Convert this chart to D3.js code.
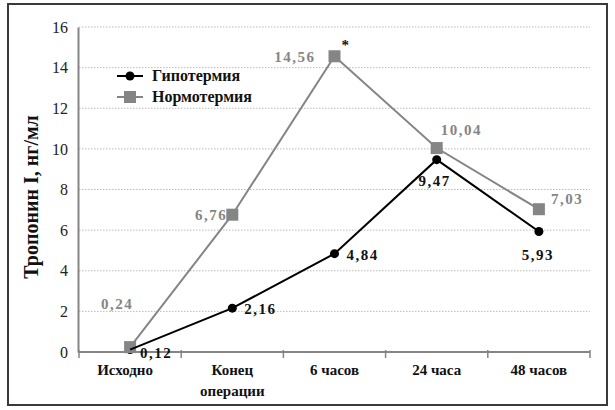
<!DOCTYPE html>
<html><head><meta charset="utf-8">
<script src="https://cdn.jsdelivr.net/npm/d3@7"></script>
<style>
body{margin:0;background:#fff;}
svg{display:block;}
svg text{font-family:'Liberation Serif','Times New Roman',serif;}
</style></head>
<body>
<svg id="c" width="615" height="410"></svg>
<script>
const categories = ["Исходно", "Конец\nоперации", "6 часов", "24 часа", "48 часов"];
const hypothermia = [0.12, 2.16, 4.84, 9.47, 5.93];
const normothermia = [0.24, 6.76, 14.56, 10.04, 7.03];
const hypoLabels = ["0,12", "2,16", "4,84", "9,47", "5,93"];
const normoLabels = ["0,24", "6,76", "14,56", "10,04", "7,03"];
const yTicks = [0, 2, 4, 6, 8, 10, 12, 14, 16];
const seriesNames = ["Гипотермия", "Нормотермия"];
const yTitle = "Тропонин I, нг/мл";

const svg = d3.select("#c");
const serif = "'Liberation Serif', 'Times New Roman', serif";
const grayC = "#858585";

// frame
svg.append("rect").attr("x", 8).attr("y", 4).attr("width", 599).attr("height", 401)
  .attr("fill", "none").attr("stroke", "#3a3a3a").attr("stroke-width", 2);

const x = d3.scaleBand().domain(d3.range(categories.length)).range([79, 590]);
const y = d3.scaleLinear().domain([0, 16]).range([352, 27]);
const cx = i => x(i) + x.bandwidth() / 2;

// gridlines
svg.append("g").selectAll("line").data(yTicks.filter(d => d > 0)).join("line")
  .attr("x1", 79).attr("x2", 590).attr("y1", d => y(d)).attr("y2", d => y(d))
  .attr("stroke", "#bbb").attr("stroke-width", 1).attr("stroke-dasharray", "1.5,1.5");

// y axis
const yAx = svg.append("g").attr("transform", "translate(78,0)")
  .call(d3.axisLeft(y).tickValues(yTicks).tickSize(0).tickPadding(10).tickFormat(d3.format("d")));
yAx.attr("font-family", null);
yAx.select(".domain").attr("stroke", grayC).attr("stroke-width", 2);
yAx.selectAll("text").style("font-family", serif).attr("font-size", 16).attr("fill", "#222");

// x axis
const xAx = svg.append("g").attr("transform", "translate(0,352)");
xAx.append("line").attr("x1", 78).attr("x2", 590).attr("stroke", grayC).attr("stroke-width", 2);
const bounds = d3.range(categories.length + 1).map(i => i < categories.length ? x(i) : x(categories.length - 1) + x.bandwidth());
xAx.selectAll("line.t").data(bounds).join("line").attr("class", "t")
  .attr("x1", d => d).attr("x2", d => d).attr("y1", -2).attr("y2", 6)
  .attr("stroke", grayC).attr("stroke-width", 1.5);
const xl = xAx.selectAll("text").data(categories).join("text")
  .attr("x", (d, i) => cx(i)).attr("y", 23)
  .attr("text-anchor", "middle").style("font-family", serif).attr("font-weight", "bold")
  .attr("font-size", 15).attr("fill", "#111");
xl.each(function(d, i) {
  d.split("\n").forEach((p, j) => d3.select(this).append("tspan").attr("x", cx(i) - (i === 0 ? 5 : 0)).attr("dy", j === 0 ? 0 : 21).text(p));
});

// y title
svg.append("text").attr("transform", "translate(38,197) rotate(-90)")
  .attr("text-anchor", "middle").style("font-family", serif).attr("font-weight", "bold")
  .attr("font-size", 20).attr("fill", "#111").text(yTitle);

// lines
const line = d3.line().x((d, i) => cx(i)).y(d => y(d));
svg.append("path").datum(normothermia).attr("d", line).attr("fill", "none")
  .attr("stroke", grayC).attr("stroke-width", 2);

// hypothermia markers (below the squares)
svg.append("g").selectAll("circle").data(hypothermia).join("circle")
  .attr("cx", (d, i) => cx(i)).attr("cy", d => y(d)).attr("r", 4.5).attr("fill", "#000");
// normothermia markers
svg.append("g").selectAll("rect").data(normothermia).join("rect")
  .attr("x", (d, i) => cx(i) - 6).attr("y", d => y(d) - 6).attr("width", 12).attr("height", 12)
  .attr("fill", grayC);
svg.append("path").datum(hypothermia).attr("d", line).attr("fill", "none")
  .attr("stroke", "#000").attr("stroke-width", 2);

// labels
const normOff = [[-13, -38, "middle"], [-5, 5, "end"], [-19, 6, "end"], [4, -13, "start"], [12, -5, "start"]];
const hypoOff = [[10, 8, "start"], [12, 6, "start"], [12, 6, "start"], [-2, 26, "middle"], [-1, 28, "middle"]];
const labStyle = sel => sel.style("font-family", serif).attr("font-weight", "bold")
  .attr("font-size", 15).attr("letter-spacing", "1.5px");
svg.append("g").selectAll("text").data(normothermia).join("text")
  .attr("x", (d, i) => cx(i) + normOff[i][0]).attr("y", d => y(d)).attr("dy", (d, i) => normOff[i][1])
  .attr("text-anchor", (d, i) => normOff[i][2]).attr("fill", grayC)
  .call(labStyle).text((d, i) => normoLabels[i]);
svg.append("g").selectAll("text").data(hypothermia).join("text")
  .attr("x", (d, i) => cx(i) + hypoOff[i][0]).attr("y", d => y(d)).attr("dy", (d, i) => hypoOff[i][1])
  .attr("text-anchor", (d, i) => hypoOff[i][2]).attr("fill", "#111")
  .call(labStyle).text((d, i) => hypoLabels[i]);
// asterisk
svg.append("text").attr("x", cx(2) + 7).attr("y", y(normothermia[2]) - 6)
  .style("font-family", serif).attr("font-weight", "bold").attr("font-size", 15).attr("fill", "#111").text("*");

// legend
const lg = svg.append("g");
seriesNames.forEach((n, i) => {
  const ly = 76 + i * 21;
  const col = i === 0 ? "#000" : grayC;
  lg.append("line").attr("x1", 117).attr("x2", 143).attr("y1", ly).attr("y2", ly).attr("stroke", col).attr("stroke-width", 2);
  if (i === 0) lg.append("circle").attr("cx", 130).attr("cy", ly).attr("r", 4.5).attr("fill", col);
  else lg.append("rect").attr("x", 124).attr("y", ly - 6).attr("width", 12).attr("height", 12).attr("fill", col);
  lg.append("text").attr("x", 152).attr("y", ly + 5).style("font-family", serif).attr("font-weight", "bold")
    .attr("font-size", 16).attr("fill", "#111").text(n);
});
</script>
</body></html>
